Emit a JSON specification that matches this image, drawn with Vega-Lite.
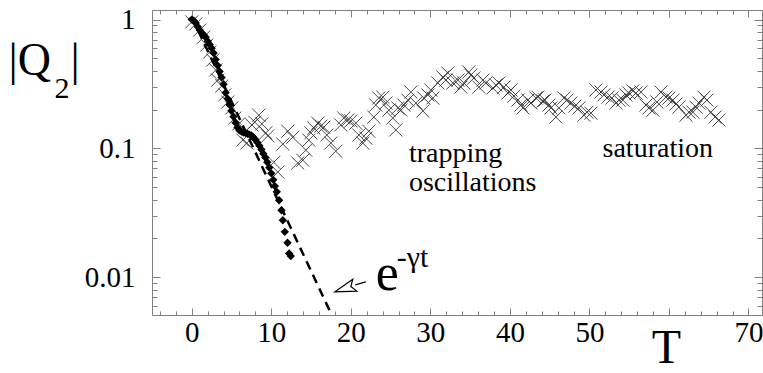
{
  "$schema": "https://vega.github.io/schema/vega-lite/v6.json",
  "width": 610,
  "height": 305,
  "autosize": "none",
  "padding": {"left": 152, "top": 10, "right": 1, "bottom": 58},
  "background": "white",
  "config": {
    "view": {"stroke": "#808080", "strokeWidth": 1},
    "font": "Liberation Serif",
    "axis": {"domain": false, "grid": false, "tickColor": "#808080", "tickWidth": 1, "labelFont": "Liberation Serif", "labelFontSize": 29, "labelColor": "black", "titleFont": "Liberation Serif", "titleFontWeight": "normal", "titleColor": "black", "labelFlush": false, "labelOverlap": false},
    "text": {"font": "Liberation Serif"}
  },
  "resolve": {"axis": {"x": "independent", "y": "independent"}},
  "datasets": {
    "crosses": [
      {"t":0,"q":0.96},{"t":0.5,"q":0.924},{"t":1.01,"q":0.83},{"t":1.51,"q":0.732},{"t":1.89,"q":0.635},{"t":2.26,"q":0.56},{"t":2.64,"q":0.485},{"t":3.02,"q":0.406},{"t":3.27,"q":0.339},{"t":3.77,"q":0.305},{"t":4.15,"q":0.26},{"t":4.53,"q":0.229},{"t":5.03,"q":0.206},{"t":5.41,"q":0.172},{"t":5.91,"q":0.155},{"t":6.42,"q":0.116},{"t":6.92,"q":0.11},{"t":7.55,"q":0.152},{"t":7.92,"q":0.16},{"t":8.43,"q":0.181},{"t":8.81,"q":0.155},{"t":9.31,"q":0.132},{"t":9.56,"q":0.125},{"t":10.31,"q":0.078},{"t":10.82,"q":0.0655},{"t":11.45,"q":0.108},{"t":12.08,"q":0.136},{"t":12.7,"q":0.122},{"t":13.33,"q":0.077},{"t":13.96,"q":0.081},{"t":14.34,"q":0.097},{"t":14.72,"q":0.116},{"t":14.97,"q":0.132},{"t":15.35,"q":0.144},{"t":15.85,"q":0.157},{"t":16.23,"q":0.149},{"t":16.6,"q":0.146},{"t":16.98,"q":0.127},{"t":17.48,"q":0.11},{"t":18.11,"q":0.095},{"t":18.74,"q":0.152},{"t":19.12,"q":0.172},{"t":19.62,"q":0.166},{"t":20.0,"q":0.163},{"t":20.63,"q":0.157},{"t":21.01,"q":0.127},{"t":21.51,"q":0.11},{"t":21.89,"q":0.12},{"t":22.26,"q":0.136},{"t":22.89,"q":0.175},{"t":23.14,"q":0.217},{"t":23.52,"q":0.246},{"t":24.03,"q":0.25},{"t":24.4,"q":0.225},{"t":24.78,"q":0.198},{"t":25.28,"q":0.172},{"t":25.66,"q":0.139},{"t":25.91,"q":0.206},{"t":26.29,"q":0.198},{"t":26.67,"q":0.217},{"t":27.17,"q":0.237},{"t":27.55,"q":0.274},{"t":28.18,"q":0.225},{"t":29.06,"q":0.195},{"t":29.18,"q":0.246},{"t":29.69,"q":0.26},{"t":30.06,"q":0.284},{"t":30.31,"q":0.246},{"t":30.94,"q":0.322},{"t":31.57,"q":0.358},{"t":31.95,"q":0.339},{"t":32.2,"q":0.385},{"t":32.83,"q":0.322},{"t":33.46,"q":0.339},{"t":33.84,"q":0.299},{"t":34.21,"q":0.322},{"t":34.84,"q":0.392},{"t":35.09,"q":0.371},{"t":35.47,"q":0.352},{"t":36.1,"q":0.299},{"t":36.6,"q":0.339},{"t":36.98,"q":0.322},{"t":37.86,"q":0.294},{"t":38.24,"q":0.31},{"t":38.62,"q":0.322},{"t":39.25,"q":0.299},{"t":39.75,"q":0.269},{"t":40.13,"q":0.284},{"t":40.5,"q":0.255},{"t":41.01,"q":0.237},{"t":41.38,"q":0.217},{"t":41.64,"q":0.206},{"t":42.26,"q":0.237},{"t":42.64,"q":0.225},{"t":43.27,"q":0.246},{"t":43.52,"q":0.25},{"t":44.15,"q":0.233},{"t":44.4,"q":0.237},{"t":44.91,"q":0.217},{"t":45.16,"q":0.206},{"t":45.79,"q":0.175},{"t":46.16,"q":0.206},{"t":46.79,"q":0.246},{"t":47.17,"q":0.237},{"t":47.67,"q":0.225},{"t":48.18,"q":0.213},{"t":48.68,"q":0.206},{"t":49.31,"q":0.181},{"t":49.69,"q":0.191},{"t":50.19,"q":0.188},{"t":50.82,"q":0.284},{"t":51.45,"q":0.274},{"t":51.82,"q":0.26},{"t":52.33,"q":0.25},{"t":52.83,"q":0.246},{"t":53.33,"q":0.225},{"t":53.71,"q":0.237},{"t":54.21,"q":0.237},{"t":54.59,"q":0.26},{"t":54.97,"q":0.269},{"t":55.47,"q":0.279},{"t":55.85,"q":0.269},{"t":56.48,"q":0.274},{"t":57.11,"q":0.217},{"t":57.48,"q":0.206},{"t":57.99,"q":0.198},{"t":58.49,"q":0.229},{"t":58.99,"q":0.274},{"t":59.62,"q":0.25},{"t":60.0,"q":0.246},{"t":60.5,"q":0.237},{"t":60.88,"q":0.221},{"t":61.26,"q":0.209},{"t":62.14,"q":0.181},{"t":62.52,"q":0.191},{"t":63.02,"q":0.191},{"t":63.4,"q":0.209},{"t":63.77,"q":0.225},{"t":64.4,"q":0.25},{"t":64.78,"q":0.237},{"t":65.28,"q":0.191},{"t":65.79,"q":0.175},{"t":66.29,"q":0.166}
    ],
    "diamonds": [
      {"t":0,"q":1.0},{"t":0.25,"q":0.98},{"t":0.5,"q":0.94},{"t":0.75,"q":0.88},{"t":1,"q":0.83},{"t":1.25,"q":0.79},{"t":1.5,"q":0.76},{"t":1.75,"q":0.73},{"t":2,"q":0.68},{"t":2.25,"q":0.64},{"t":2.5,"q":0.6},{"t":2.75,"q":0.55},{"t":3,"q":0.49},{"t":3.25,"q":0.44},{"t":3.5,"q":0.395},{"t":3.75,"q":0.355},{"t":4,"q":0.315},{"t":4.25,"q":0.27},{"t":4.5,"q":0.243},{"t":4.75,"q":0.218},{"t":5,"q":0.196},{"t":5.25,"q":0.176},{"t":5.5,"q":0.158},{"t":5.75,"q":0.145},{"t":6,"q":0.138},{"t":6.25,"q":0.135},{"t":6.5,"q":0.133},{"t":6.75,"q":0.132},{"t":7,"q":0.13},{"t":7.25,"q":0.128},{"t":7.5,"q":0.126},{"t":7.75,"q":0.122},{"t":8,"q":0.117},{"t":8.25,"q":0.111},{"t":8.5,"q":0.105},{"t":8.75,"q":0.098},{"t":9,"q":0.091},{"t":9.25,"q":0.085},{"t":9.5,"q":0.078},{"t":9.75,"q":0.071},{"t":10,"q":0.064},{"t":10.25,"q":0.057},{"t":10.45,"q":0.051},{"t":10.69,"q":0.046},{"t":10.98,"q":0.0396},{"t":11.28,"q":0.0331},{"t":11.45,"q":0.0277},{"t":11.7,"q":0.0225},{"t":12.04,"q":0.0185},{"t":12.24,"q":0.0153},{"t":12.45,"q":0.0146}
    ],
    "expfit": [{"t":0,"q":1.05},{"t":18,"q":0.00451}],
    "shaft": [{"t":21.89,"q":0.00919,"t2":20.57,"q2":0.00871}],
    "head": [{"t":19.25,"q":0.00818}],
    "notes": [
      {"t":27.3,"q":0.0787,"label":"trapping"},
      {"t":27.3,"q":0.0468,"label":"oscillations"},
      {"t":51.65,"q":0.0856,"label":"saturation"}
    ],
    "ebase": [{"t":23.14,"q":0.00792,"label":"e"}],
    "esup": [{"t":25.79,"q":0.01202,"label":"-γt"}]
  },
  "layer": [
    {
      "data": {"name": "crosses"},
      "mark": {"type": "point", "shape": "M-1,-1L1,1M-1,1L1,-1", "filled": false, "color": "#333333", "strokeWidth": 0.9, "size": 170, "opacity": 1},
      "encoding": {
        "x": {"field": "t", "type": "quantitative", "scale": {"domain": [-5, 71.7], "nice": false, "zero": false},
          "axis": {"orient": "bottom", "values": [0,10,20,30,40,50,60,70], "format": "d", "labelExpr": "datum.value == 60 ? '' : datum.label", "tickSize": -7, "labelPadding": 10,
            "title": "T", "titleFontSize": 48, "titleX": 514, "titleY": 47, "titleAlign": "center", "titleBaseline": "alphabetic"}},
        "y": {"field": "q", "type": "quantitative", "scale": {"type": "log", "domain": [0.00509, 1.187], "nice": false},
          "axis": {"orient": "left", "values": [0.01, 0.1, 1], "format": "~g", "tickSize": -8, "labelPadding": 25,
            "title": "|Q", "titleFontSize": 46, "titleAngle": 0, "titleAlign": "left", "titleBaseline": "alphabetic", "titleX": -144, "titleY": 64}}
      }
    },
    {
      "data": {"name": "expfit"},
      "mark": {"type": "line", "color": "black", "strokeWidth": 2.5, "strokeDash": [9, 6], "clip": true},
      "encoding": {
        "x": {"field": "t", "type": "quantitative",
          "axis": {"orient": "top", "values": [0,10,20,30,40,50,60,70], "tickSize": -7, "labels": false, "title": null}},
        "y": {"field": "q", "type": "quantitative",
          "axis": {"orient": "right", "values": [0.01, 0.1, 1], "tickSize": -8, "labels": false, "title": null}}
      }
    },
    {
      "data": {"name": "diamonds"},
      "mark": {"type": "point", "shape": "diamond", "filled": true, "color": "black", "size": 70, "opacity": 1},
      "encoding": {
        "x": {"field": "t", "type": "quantitative",
          "axis": {"orient": "bottom", "values": [-4,-2,2,4,6,8,12,14,16,18,22,24,26,28,32,34,36,38,42,44,46,48,52,54,56,58,62,64,66,68], "tickSize": -4, "labels": false, "title": null}},
        "y": {"field": "q", "type": "quantitative",
          "axis": {"orient": "left", "values": [0.006,0.007,0.008,0.009,0.02,0.03,0.04,0.05,0.06,0.07,0.08,0.09,0.2,0.3,0.4,0.5,0.6,0.7,0.8,0.9], "tickSize": -5, "labels": false,
            "title": "2", "titleFontSize": 30, "titleAngle": 0, "titleAlign": "left", "titleBaseline": "alphabetic", "titleX": -98, "titleY": 87}}
      }
    },
    {
      "data": {"name": "shaft"},
      "mark": {"type": "rule", "color": "black", "strokeWidth": 1.2},
      "encoding": {
        "x": {"field": "t", "type": "quantitative",
          "axis": {"orient": "top", "values": [-4,-2,2,4,6,8,12,14,16,18,22,24,26,28,32,34,36,38,42,44,46,48,52,54,56,58,62,64,66,68], "tickSize": -4, "labels": false, "title": null}},
        "y": {"field": "q", "type": "quantitative",
          "axis": {"orient": "right", "values": [0.006,0.007,0.008,0.009,0.02,0.03,0.04,0.05,0.06,0.07,0.08,0.09,0.2,0.3,0.4,0.5,0.6,0.7,0.8,0.9], "tickSize": -5, "labels": false,
            "title": "|", "titleFontSize": 46, "titleAngle": 0, "titleAlign": "left", "titleBaseline": "alphabetic", "titleX": -692, "titleY": 64}},
        "x2": {"field": "t2"},
        "y2": {"field": "q2"}
      }
    },
    {
      "data": {"name": "head"},
      "mark": {"type": "point", "shape": "M1,0L-1,-0.6L-0.6,0L-1,0.6Z", "filled": true, "fill": "white", "stroke": "black", "strokeWidth": 1.2, "size": 441, "angle": 161.4, "opacity": 1},
      "encoding": {
        "x": {"field": "t", "type": "quantitative", "axis": null},
        "y": {"field": "q", "type": "quantitative", "axis": null}
      }
    },
    {
      "data": {"name": "notes"},
      "mark": {"type": "text", "font": "Liberation Serif", "fontSize": 28, "align": "left", "baseline": "alphabetic", "color": "black"},
      "encoding": {
        "x": {"field": "t", "type": "quantitative", "axis": null},
        "y": {"field": "q", "type": "quantitative", "axis": null},
        "text": {"field": "label"}
      }
    },
    {
      "data": {"name": "ebase"},
      "mark": {"type": "text", "font": "Liberation Serif", "fontSize": 52, "align": "left", "baseline": "alphabetic", "color": "black"},
      "encoding": {
        "x": {"field": "t", "type": "quantitative", "axis": null},
        "y": {"field": "q", "type": "quantitative", "axis": null},
        "text": {"field": "label"}
      }
    },
    {
      "data": {"name": "esup"},
      "mark": {"type": "text", "font": "Liberation Serif", "fontSize": 30, "align": "left", "baseline": "alphabetic", "color": "black"},
      "encoding": {
        "x": {"field": "t", "type": "quantitative", "axis": null},
        "y": {"field": "q", "type": "quantitative", "axis": null},
        "text": {"field": "label"}
      }
    }
  ]
}
